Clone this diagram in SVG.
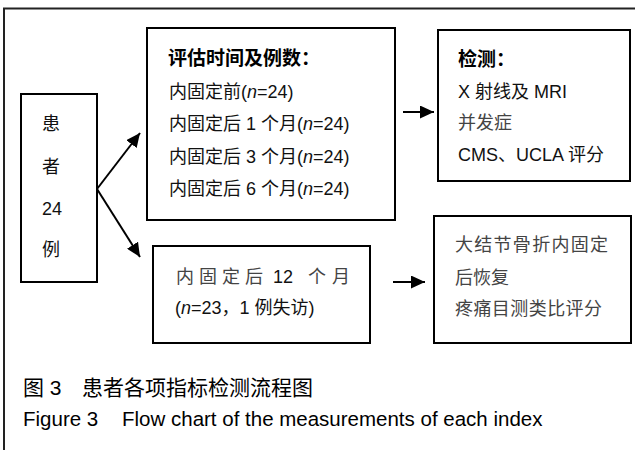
<svg xmlns="http://www.w3.org/2000/svg" width="635" height="450" viewBox="0 0 635 450">
  <style>
    text { font-family: "Liberation Sans", "Noto Sans CJK SC", sans-serif; font-size: 18px; fill: #111; }
    .b { font-weight: bold; font-size: 19px; fill: #000; }
    .cap { fill: #000; }
    .box { fill: #fff; stroke: #000; stroke-width: 2; }
    .edge { fill: none; stroke: #000; stroke-width: 2; }
    .i { font-style: italic; }
    .soft { fill: #444; }
  </style>
  <defs>
    <marker id="ah" markerUnits="userSpaceOnUse" markerWidth="14" markerHeight="13" refX="14" refY="6.5" orient="auto">
      <path d="M0,0 L14,6.5 L0,13 z" fill="#000"/>
    </marker>
  </defs>

  <rect width="635" height="450" fill="#fff"/>
  <!-- outer frame (right and bottom edges run off the canvas) -->
  <rect x="4" y="8.5" width="650" height="460" fill="none" stroke="#222" stroke-width="2"/>

  <g id="patients">
    <rect class="box" x="21" y="94" width="76" height="188"/>
    <text x="42" y="130">患</text>
    <text x="42" y="173">者</text>
    <text x="42" y="215">24</text>
    <text x="42" y="256">例</text>
  </g>

  <g id="timepoints">
    <rect class="box" x="147" y="28" width="248" height="192"/>
    <text class="b" x="168" y="65">评估时间及例数：</text>
    <text x="169" y="98">内固定前(<tspan class="i">n</tspan>=24)</text>
    <text x="169" y="130">内固定后 1 个月(<tspan class="i">n</tspan>=24)</text>
    <text x="169" y="163">内固定后 3 个月(<tspan class="i">n</tspan>=24)</text>
    <text x="169" y="195">内固定后 6 个月(<tspan class="i">n</tspan>=24)</text>
  </g>

  <g id="measures">
    <rect class="box" x="438" y="30" width="192" height="151"/>
    <text class="b" x="458" y="66">检测：</text>
    <text x="458" y="98">X 射线及 MRI</text>
    <text class="soft" x="458" y="129">并发症</text>
    <text x="458" y="161">CMS、UCLA 评分</text>
  </g>

  <g id="month12">
    <rect class="box" x="153" y="246" width="217" height="97"/>
    <text y="283"><tspan class="soft" x="176 199 222 245">内固定后</tspan><tspan x="273">12</tspan><tspan class="soft" x="308 332">个月</tspan></text>
    <text x="175" y="314">(<tspan class="i">n</tspan>=23，1 例失访)</text>
  </g>

  <g id="recovery">
    <rect class="box" x="434" y="216" width="197" height="127"/>
    <text class="soft" x="455" y="251" textLength="153" lengthAdjust="spacing">大结节骨折内固定</text>
    <text class="soft" x="455" y="284">后恢复</text>
    <text class="soft" x="455" y="315" textLength="147" lengthAdjust="spacing">疼痛目测类比评分</text>
  </g>

  <g id="connectors">
    <path class="edge" d="M97,189 L140,133" marker-end="url(#ah)"/>
    <path class="edge" d="M97,189 L140,257" marker-end="url(#ah)"/>
    <path class="edge" d="M403,112 L434,112" marker-end="url(#ah)"/>
    <path class="edge" d="M393,282 L425,282" marker-end="url(#ah)"/>
  </g>

  <g id="caption">
    <text class="cap" x="23" y="395" style="font-size:21px">图 3</text>
    <text class="cap" x="82" y="395" style="font-size:21px">患者各项指标检测流程图</text>
    <text class="cap" x="23" y="426" style="font-size:20.5px">Figure 3</text>
    <text class="cap" x="122" y="426" style="font-size:20.5px">Flow chart of the measurements of each index</text>
  </g>
</svg>
